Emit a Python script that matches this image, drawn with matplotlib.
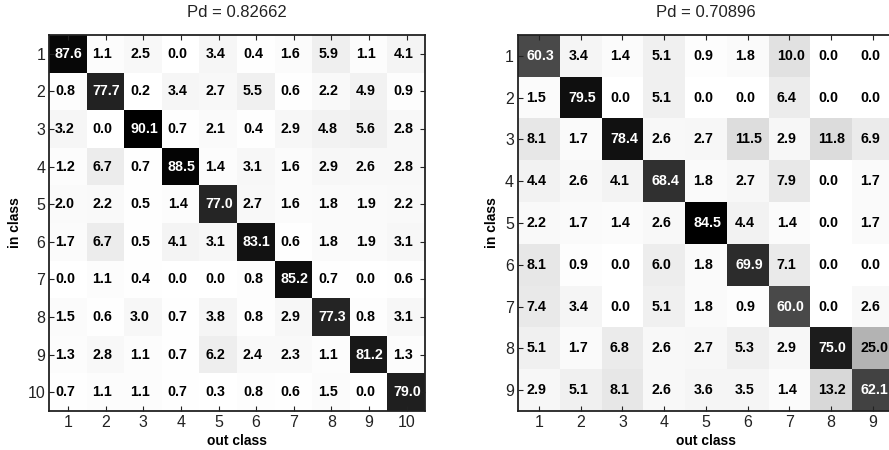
import numpy as np
import matplotlib
matplotlib.use("Agg")
import matplotlib.pyplot as plt

plt.rcParams['font.family'] = ['Liberation Sans', 'DejaVu Sans']

# Confusion matrix 1 (10 classes), percentages, rows = in class, cols = out class
cm_a = [
    [87.6, 1.1, 2.5, 0.0, 3.4, 0.4, 1.6, 5.9, 1.1, 4.1],
    [0.8, 77.7, 0.2, 3.4, 2.7, 5.5, 0.6, 2.2, 4.9, 0.9],
    [3.2, 0.0, 90.1, 0.7, 2.1, 0.4, 2.9, 4.8, 5.6, 2.8],
    [1.2, 6.7, 0.7, 88.5, 1.4, 3.1, 1.6, 2.9, 2.6, 2.8],
    [2.0, 2.2, 0.5, 1.4, 77.0, 2.7, 1.6, 1.8, 1.9, 2.2],
    [1.7, 6.7, 0.5, 4.1, 3.1, 83.1, 0.6, 1.8, 1.9, 3.1],
    [0.0, 1.1, 0.4, 0.0, 0.0, 0.8, 85.2, 0.7, 0.0, 0.6],
    [1.5, 0.6, 3.0, 0.7, 3.8, 0.8, 2.9, 77.3, 0.8, 3.1],
    [1.3, 2.8, 1.1, 0.7, 6.2, 2.4, 2.3, 1.1, 81.2, 1.3],
    [0.7, 1.1, 1.1, 0.7, 0.3, 0.8, 0.6, 1.5, 0.0, 79.0],
]
title_a = "Pd = 0.82662"

# Confusion matrix 2 (9 classes)
cm_b = [
    [60.3, 3.4, 1.4, 5.1, 0.9, 1.8, 10.0, 0.0, 0.0],
    [1.5, 79.5, 0.0, 5.1, 0.0, 0.0, 6.4, 0.0, 0.0],
    [8.1, 1.7, 78.4, 2.6, 2.7, 11.5, 2.9, 11.8, 6.9],
    [4.4, 2.6, 4.1, 68.4, 1.8, 2.7, 7.9, 0.0, 1.7],
    [2.2, 1.7, 1.4, 2.6, 84.5, 4.4, 1.4, 0.0, 1.7],
    [8.1, 0.9, 0.0, 6.0, 1.8, 69.9, 7.1, 0.0, 0.0],
    [7.4, 3.4, 0.0, 5.1, 1.8, 0.9, 60.0, 0.0, 2.6],
    [5.1, 1.7, 6.8, 2.6, 2.7, 5.3, 2.9, 75.0, 25.0],
    [2.9, 5.1, 8.1, 2.6, 3.6, 3.5, 1.4, 13.2, 62.1],
]
title_b = "Pd = 0.70896"

W, H = 889, 450
fig = plt.figure(figsize=(W / 100, H / 100), dpi=100)


def draw(rect, cm, title, text_shift):
    m = np.array(cm)
    n = m.shape[0]
    ax = fig.add_axes(rect)
    vmax = m.max()
    ax.imshow(m, cmap='gray_r', vmin=0, vmax=vmax, interpolation='nearest',
              extent=(0.5, n + 0.5, n + 0.5, 0.5), aspect='auto')
    for i in range(n):
        for j in range(n):
            v = m[i, j]
            color = 'white' if v > 0.5 * vmax else 'black'
            ax.text(j + 1 - text_shift, i + 1, f"{v:.1f}", ha='left', va='center',
                    fontsize=10.3, fontweight='bold', color=color, clip_on=True)
    ax.set_xlim(0.5, n + 0.5)
    ax.set_ylim(n + 0.5, 0.5)
    ticks = np.arange(1, n + 1)
    ax.set_xticks(ticks)
    ax.set_yticks(ticks)
    ax.set_xticklabels([str(t) for t in ticks])
    ax.set_yticklabels([str(t) for t in ticks])
    ax.tick_params(direction='in', length=3.5, width=0.8, top=True, right=True,
                   labelsize=11.5, pad=3, colors='#222222', labelcolor='#222222')
    for s in ax.spines.values():
        s.set_linewidth(1.3)
        s.set_color('#222222')
    ax.set_title(title, fontsize=12, pad=13, color='#222222')
    ax.set_xlabel('out class', fontsize=10, fontweight='bold', labelpad=3)
    ax.set_ylabel('in class', fontsize=10, fontweight='bold', labelpad=4)
    return ax


draw([49.3 / W, 39 / H, 376 / W, 376 / H], cm_a, title_a, 0.35)
draw([518.2 / W, 39 / H, 375.3 / W, 376 / H], cm_b, title_b, 0.30)

fig.savefig('out.png', dpi=100)
